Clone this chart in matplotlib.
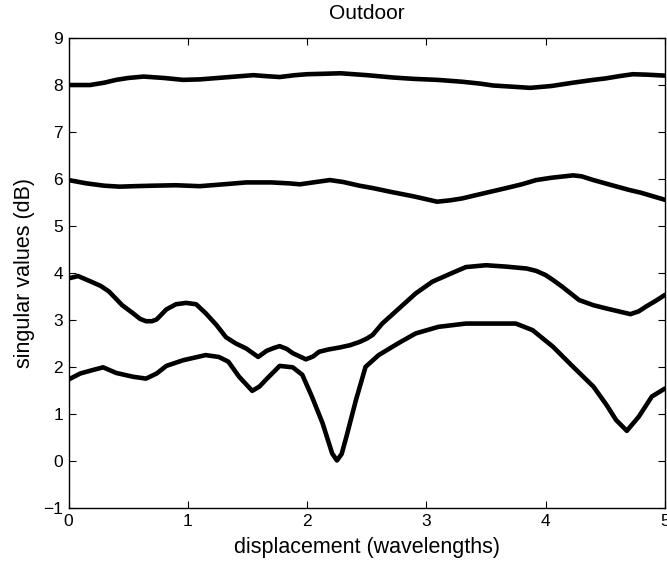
import matplotlib
matplotlib.use("Agg")
import matplotlib.pyplot as plt

# singular value curves (x in wavelengths, y in dB)
x1 = [0, 0.18, 0.3, 0.4, 0.5, 0.63, 0.8, 0.96, 1.1, 1.2, 1.4, 1.55, 1.65, 1.77, 1.9, 2.0,
      2.15, 2.28, 2.5, 2.72, 2.9, 3.09, 3.3, 3.45, 3.56, 3.75, 3.87, 4.05, 4.23, 4.4, 4.5,
      4.62, 4.73, 4.85, 5.0]
s1 = [7.99, 7.99, 8.04, 8.1, 8.14, 8.17, 8.14, 8.10, 8.11, 8.13, 8.17, 8.20, 8.18, 8.16, 8.20,
      8.22, 8.23, 8.24, 8.20, 8.15, 8.12, 8.10, 8.06, 8.02, 7.98, 7.95, 7.93, 7.97, 8.04, 8.10,
      8.13, 8.18, 8.22, 8.21, 8.19]

x2 = [0, 0.15, 0.3, 0.43, 0.55, 0.7, 0.9, 1.1, 1.3, 1.49, 1.7, 1.85, 1.94, 2.05, 2.19, 2.3,
      2.44, 2.55, 2.7, 2.9, 3.09, 3.2, 3.3, 3.5, 3.67, 3.8, 3.92, 4.05, 4.23, 4.3, 4.4, 4.57,
      4.7, 4.8, 5.0]
s2 = [5.97, 5.90, 5.85, 5.83, 5.84, 5.85, 5.86, 5.84, 5.88, 5.92, 5.92, 5.90, 5.88, 5.92, 5.97,
      5.93, 5.85, 5.80, 5.72, 5.62, 5.51, 5.54, 5.58, 5.70, 5.80, 5.88, 5.97, 6.02, 6.07, 6.05,
      5.97, 5.85, 5.76, 5.70, 5.55]

x3 = [0, 0.08, 0.19, 0.27, 0.34, 0.45, 0.54, 0.60, 0.65, 0.70, 0.74, 0.82, 0.90, 0.985, 1.07,
      1.15, 1.24, 1.32, 1.40, 1.49, 1.59, 1.66, 1.72, 1.77, 1.83, 1.88, 1.99, 2.05, 2.10, 2.18,
      2.27, 2.36, 2.44, 2.50, 2.55, 2.63, 2.70, 2.77, 2.84, 2.91, 3.05, 3.22, 3.33, 3.50, 3.67,
      3.84, 3.92, 4.0, 4.07, 4.14, 4.21, 4.28, 4.40, 4.51, 4.61, 4.71, 4.78, 4.84, 4.92, 5.0]
s3 = [3.88, 3.93, 3.81, 3.72, 3.60, 3.31, 3.14, 3.02, 2.97, 2.97, 3.01, 3.22, 3.33, 3.36, 3.33,
      3.14, 2.89, 2.63, 2.50, 2.39, 2.21, 2.34, 2.40, 2.44, 2.38, 2.29, 2.16, 2.22, 2.32, 2.37,
      2.41, 2.46, 2.53, 2.60, 2.68, 2.92, 3.08, 3.24, 3.40, 3.56, 3.81, 4.00, 4.12, 4.16, 4.13,
      4.09, 4.04, 3.95, 3.83, 3.70, 3.56, 3.42, 3.31, 3.24, 3.18, 3.12, 3.18, 3.28, 3.40, 3.53]

x4 = [0, 0.10, 0.20, 0.29, 0.40, 0.54, 0.65, 0.74, 0.82, 0.96, 1.15, 1.26, 1.34, 1.43, 1.54,
      1.60, 1.66, 1.77, 1.88, 1.96, 2.04, 2.13, 2.21, 2.25, 2.29, 2.33, 2.41, 2.49, 2.60, 2.77,
      2.91, 3.10, 3.33, 3.50, 3.75, 3.89, 4.06, 4.23, 4.40, 4.51, 4.59, 4.68, 4.78, 4.89, 5.0]
s4 = [1.73, 1.86, 1.93, 1.99, 1.87, 1.79, 1.75, 1.86, 2.02, 2.14, 2.25, 2.21, 2.11, 1.79, 1.49,
      1.58, 1.74, 2.02, 1.99, 1.83, 1.37, 0.80, 0.16, 0.01, 0.15, 0.52, 1.30, 2.00, 2.25, 2.51,
      2.71, 2.85, 2.92, 2.92, 2.92, 2.78, 2.43, 2.00, 1.58, 1.19, 0.87, 0.64, 0.94, 1.37, 1.54]

xticks = [0, 1, 2, 3, 4, 5]
yticks = [-1, 0, 1, 2, 3, 4, 5, 6, 7, 8, 9]

plt.rcParams["font.family"] = ["Liberation Sans", "DejaVu Sans"]

fig = plt.figure(figsize=(6.67, 5.65), dpi=100)
ax = fig.add_axes([0.1027, 0.1009, 0.8943, 0.8327])
for xs, ys in [(x1, s1), (x2, s2), (x3, s3), (x4, s4)]:
    ax.plot(xs, ys, color="black", lw=3.3, solid_joinstyle="round", solid_capstyle="round")

ax.set_xlim(0, 5)
ax.set_ylim(-1, 9)
ax.set_xticks(xticks)
ax.set_yticks(yticks)
ax.tick_params(direction="in", top=True, right=True, length=5, width=0.8, labelsize=12.5, pad=4)
for sp in ax.spines.values():
    sp.set_linewidth(1.0)
ax.set_xlabel("displacement (wavelengths)", fontsize=15.5, labelpad=6)
ax.set_ylabel("singular values (dB)", fontsize=15.5, labelpad=6)
ax.set_title("Outdoor", fontsize=15, pad=13)

fig.savefig("out.png", dpi=100)
